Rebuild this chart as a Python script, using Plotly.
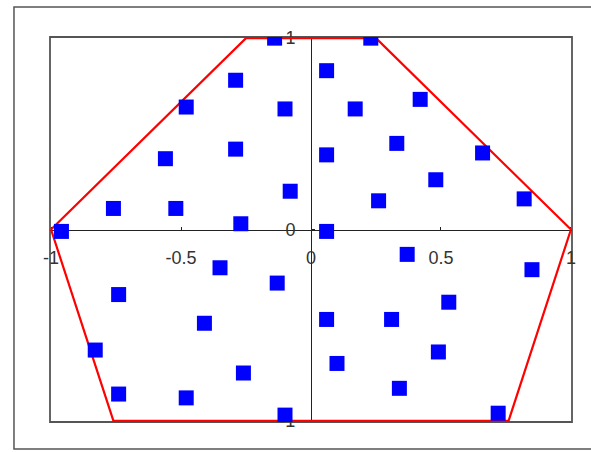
import plotly.graph_objects as go

# Scatter points (blue squares)
pts_x = [-0.14, 0.23, 0.06, -0.29, -0.48, -0.10, 0.17, 0.42, -0.29, -0.56,
         0.06, 0.33, 0.66, 0.48, -0.08, -0.76, -0.52, 0.26, 0.82, -0.27,
         -0.96, 0.06, 0.37, -0.35, 0.85, -0.13, -0.74, 0.53, -0.41, 0.06,
         0.31, -0.83, 0.49, 0.10, -0.26, -0.74, -0.48, 0.34, -0.10, 0.72]
pts_y = [1.00, 1.00, 0.83, 0.78, 0.64, 0.63, 0.63, 0.68, 0.42, 0.37,
         0.39, 0.45, 0.40, 0.26, 0.20, 0.11, 0.11, 0.15, 0.16, 0.03,
         -0.01, -0.01, -0.13, -0.20, -0.21, -0.28, -0.34, -0.38, -0.49, -0.47,
         -0.47, -0.63, -0.64, -0.70, -0.75, -0.86, -0.88, -0.83, -0.97, -0.96]

# Enclosing polygon (red)
poly_x = [-1.0, -0.25, 0.25, 1.0, 0.76, -0.76, -1.0]
poly_y = [0.0, 1.0, 1.0, 0.0, -1.0, -1.0, 0.0]

# Tick labels
x_ticks = [-1, -0.5, 0, 0.5, 1]
x_ticktext = ["-1", "-0.5", "0", "0.5", "1"]
y_ticks = [-1, 0, 1]
y_ticktext = ["-1", "0", "1"]

fig = go.Figure()
fig.add_trace(go.Scatter(x=poly_x, y=poly_y, mode="lines",
                         line=dict(color="#ff0000", width=2.2),
                         hoverinfo="skip", showlegend=False))
fig.add_trace(go.Scatter(x=pts_x, y=pts_y, mode="markers",
                         marker=dict(symbol="square", size=15, color="#0000ff",
                                     line=dict(width=0)),
                         showlegend=False))

tickfont = dict(family="Liberation Sans, Arial, sans-serif", size=18, color="#333333")

fig.update_layout(
    width=591, height=452,
    margin=dict(l=50, r=19, t=37, b=30),
    paper_bgcolor="white", plot_bgcolor="white",
    showlegend=False,
    xaxis=dict(range=[-1.004, 1.004], tickvals=x_ticks, ticktext=x_ticktext,
               anchor="free", position=0.5, showline=True, linecolor="#222222",
               linewidth=1, ticks="inside", ticklen=3, tickcolor="#222222",
               showgrid=False, zeroline=False, tickfont=tickfont,
               ticklabelstandoff=12,
               automargin=False, layer="below traces"),
    yaxis=dict(range=[-1.006, 1.006], tickvals=y_ticks, ticktext=y_ticktext,
               anchor="free", position=0.5, showline=True, linecolor="#222222",
               linewidth=1, ticks="inside", ticklen=3, tickcolor="#222222",
               showgrid=False, zeroline=False, tickfont=tickfont,
               ticklabelstandoff=12,
               automargin=False, layer="below traces"),
    shapes=[
        dict(type="rect", xref="x domain", yref="y domain", x0=0, x1=1, y0=0, y1=1,
             line=dict(color="#555555", width=1.8), layer="below"),
        dict(type="rect", xref="paper", yref="paper", x0=-0.069, x1=1.2,
             y0=-0.070, y1=1.078, line=dict(color="#555555", width=1.5), layer="below"),
    ],
)

fig.write_html("out.html",
               config={"displayModeBar": False},
               post_script="document.body.style.margin='0';"
                           "document.body.style.overflow='hidden';")
